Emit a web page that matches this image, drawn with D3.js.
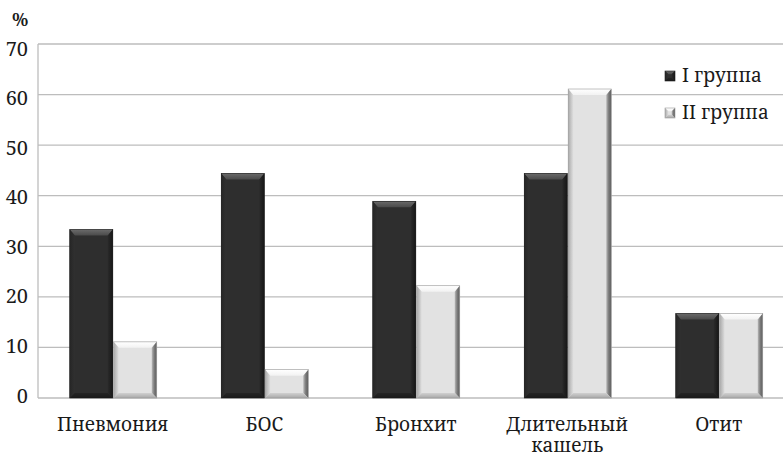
<!DOCTYPE html>
<html lang="ru">
<head>
<meta charset="utf-8">
<script src="https://cdn.jsdelivr.net/npm/d3@7/dist/d3.min.js"></script>
<style>
  html, body { margin: 0; padding: 0; background: #fff; }
  svg { display: block; }
</style>
</head>
<body>
<svg id="chart" width="783" height="458"></svg>
<script>
// Частота осложнений по группам, %
const categories = ["Пневмония", "БОС", "Бронхит", "Длительный\nкашель", "Отит"];
const seriesNames = ["I группа", "II группа"];
const group1 = [33.3, 44.4, 38.9, 44.4, 16.7];
const group2 = [11.1, 5.6, 22.2, 61.1, 16.7];
const yTicks = [0, 10, 20, 30, 40, 50, 60, 70];

const svg = d3.select("#chart");
const W = 783;
const plotLeft = 38, plotTop = 44, plotBottom = 398;
const bandW = 151.5;
const TEXT = "#1a1a1a";
const SERIF = '"Noto Serif", "Liberation Serif", serif';

const x0 = d3.scaleBand().domain(categories).range([plotLeft, plotLeft + bandW * categories.length]).padding(0);
const y = d3.scaleLinear().domain([0, 70]).range([plotBottom, plotTop]);
const yLabel = d3.scaleLinear().domain([0, 70]).range([395.5, 48.5]);
const x1 = d3.scaleBand().domain(seriesNames).range([0, 87]).paddingInner(0.02);
const groupOffset = (x0.bandwidth() - 87) / 2 - 0.5;

// bevel gradients
const defs = svg.append("defs");
function grad(id, x2, y2, stops) {
  const g = defs.append("linearGradient").attr("id", id)
    .attr("x1", 0).attr("y1", 0).attr("x2", x2).attr("y2", y2);
  stops.forEach(s => g.append("stop").attr("offset", s[0]).attr("stop-color", s[1]));
}
grad("lLeft", 1, 0, [[0, "#a9a9a9"], [1, "#dedede"]]);
grad("lRight", 1, 0, [[0, "#b8b8b8"], [0.5, "#7a7a7a"], [1, "#5e5e5e"]]);
grad("lTop", 0, 1, [[0, "#ffffff"], [1, "#f2f2f2"]]);
grad("lBottom", 0, 1, [[0, "#d0d0d0"], [1, "#a8a8a8"]]);
grad("dLeft", 1, 0, [[0, "#262626"], [1, "#303030"]]);
grad("dRight", 1, 0, [[0, "#2a2a2a"], [1, "#161616"]]);
grad("dTop", 0, 1, [[0, "#6a6a6a"], [1, "#4a4a4a"]]);
grad("dBottom", 0, 1, [[0, "#242424"], [1, "#1a1a1a"]]);

const styles = {
  "I группа": { base: "#2e2e2e", top: "url(#dTop)", left: "url(#dLeft)", right: "url(#dRight)", bottom: "url(#dBottom)", stroke: "#1c1c1c" },
  "II группа": { base: "#e2e2e2", top: "url(#lTop)", left: "url(#lLeft)", right: "url(#lRight)", bottom: "url(#lBottom)", stroke: "#9a9a9a" }
};

// gridlines and left axis line
svg.append("g").selectAll("line").data(yTicks).join("line")
  .attr("x1", plotLeft).attr("x2", W + 20)
  .attr("y1", d => y(d)).attr("y2", d => y(d))
  .attr("stroke", "#bdbdbd").attr("stroke-width", 1.3);
svg.append("line").attr("x1", plotLeft).attr("x2", plotLeft).attr("y1", plotTop).attr("y2", plotBottom)
  .attr("stroke", "#bdbdbd").attr("stroke-width", 1.3);

// y tick labels
svg.append("g").selectAll("text").data(yTicks).join("text")
  .attr("x", 28).attr("y", d => yLabel(d) + 7)
  .attr("text-anchor", "end").attr("font-size", 20).attr("fill", TEXT)
  .text(d => d);
svg.append("text").attr("x", 12).attr("y", 26).attr("font-size", 18).attr("font-weight", "bold")
  .attr("fill", TEXT).text("%");

// bars with bevelled edges
const rows = categories.map((c, i) => ({ cat: c, vals: [group1[i], group2[i]] }));
function bevelBar(g, bx, by, bw, bh, st) {
  const s = Math.min(5, bh / 2, bw / 3), t = Math.min(6, bh / 2, bw / 3);
  g.append("rect").attr("x", bx).attr("y", by).attr("width", bw).attr("height", bh).attr("fill", st.base);
  const poly = (pts, fill) => g.append("polygon").attr("points", pts.map(p => p.join(",")).join(" ")).attr("fill", fill);
  poly([[bx, by], [bx + bw, by], [bx + bw - s, by + t], [bx + s, by + t]], st.top);
  poly([[bx, by], [bx + s, by + t], [bx + s, by + bh - s], [bx, by + bh]], st.left);
  poly([[bx + bw, by], [bx + bw, by + bh], [bx + bw - s, by + bh - s], [bx + bw - s, by + t]], st.right);
  poly([[bx, by + bh], [bx + s, by + bh - s], [bx + bw - s, by + bh - s], [bx + bw, by + bh]], st.bottom);
  g.append("rect").attr("x", bx).attr("y", by).attr("width", bw).attr("height", bh)
    .attr("fill", "none").attr("stroke", st.stroke).attr("stroke-width", 0.6);
}
const groups = svg.append("g").selectAll("g").data(rows).join("g")
  .attr("transform", d => `translate(${x0(d.cat) + groupOffset},0)`);
groups.each(function (d) {
  const g = d3.select(this);
  d.vals.forEach((v, k) => {
    const name = seriesNames[k];
    bevelBar(g, x1(name), y(v), x1.bandwidth(), y(0) - y(v), styles[name]);
  });
});

// category labels (two-line label wraps at the newline)
svg.append("g").selectAll("text").data(categories).join("text")
  .attr("x", d => x0(d) + x0.bandwidth() / 2 - 1)
  .attr("y", 431).attr("text-anchor", "middle").attr("font-size", 19).attr("fill", TEXT)
  .each(function (d) {
    const t = d3.select(this);
    d.split("\n").forEach((line, i) => {
      t.append("tspan").attr("x", t.attr("x")).attr("dy", i === 0 ? 0 : 21).text(line);
    });
  });

// legend
const legend = svg.append("g").selectAll("g").data(seriesNames).join("g")
  .attr("transform", (d, i) => `translate(665,${71 + i * 37})`);
legend.each(function (d) {
  bevelBar(d3.select(this), 0, 0, 10, 10, styles[d]);
});
legend.append("text").attr("x", 17).attr("y", 11).attr("font-size", 19).attr("fill", TEXT).text(d => d);

// serif face on every label
svg.selectAll("text").style("font-family", SERIF);
</script>
</body>
</html>
